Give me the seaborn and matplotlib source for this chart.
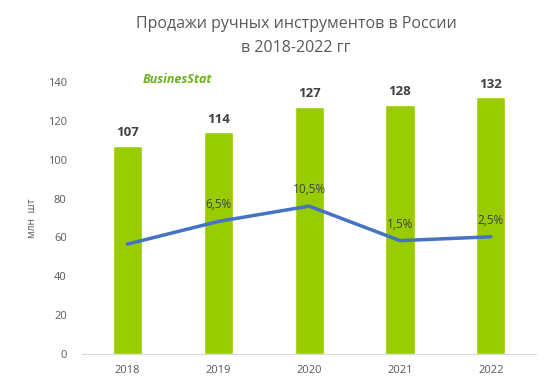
import numpy as np
import pandas as pd
import matplotlib.pyplot as plt
import seaborn as sns

years = ["2018", "2019", "2020", "2021", "2022"]
sales = [107, 114, 127, 128, 132]
growth = [0.6, 6.5, 10.5, 1.5, 2.5]
growth_labels = [None, "6,5%", "10,5%", "1,5%", "2,5%"]

df = pd.DataFrame({"year": years, "sales": sales, "growth": growth})

sns.set_style("white")
plt.rcParams["font.family"] = ["Open Sans", "DejaVu Sans"]

fig = plt.figure(figsize=(5.58, 3.9), dpi=100)
ax = fig.add_axes([0.147, 0.092, 0.814, 0.698])

sns.barplot(data=df, x="year", y="sales", color="#99CC00", width=0.32,
            saturation=1, ax=ax)
ax.set_ylim(0, 140)
ax.set_yticks(range(0, 141, 20))
ax.set_xlim(-0.5, 4.5)
ax.tick_params(axis="y", length=0, labelsize=8, colors="#595959", pad=11)
ax.tick_params(axis="x", length=0, labelsize=8, colors="#595959", pad=8)
for s in ["top", "right", "left"]:
    ax.spines[s].set_visible(False)
ax.spines["bottom"].set_color("#D9D9D9")
ax.set_xlabel("")
ax.set_ylabel("млн  шт", fontsize=7.5, color="#595959", labelpad=7)

for i, v in enumerate(sales):
    ax.text(i, v + 3.5, str(v), ha="center", va="bottom", fontsize=9.5,
            fontweight="bold", color="#404040")

ax2 = ax.twinx()
sns.lineplot(data=df, x="year", y="growth", color="#4472C4", linewidth=2.5,
             ax=ax2)
ax2.set_ylim(-28.1, 42.9)
ax2.set_xlim(-0.5, 4.5)
ax2.axis("off")
for i, (g, lab) in enumerate(zip(growth, growth_labels)):
    if lab:
        ax2.text(i, g + 2.6, lab, ha="center", va="bottom", fontsize=8.5,
                 color="#404040")

fig.text(0.531, 0.938, "Продажи ручных инструментов в России",
         ha="center", va="center", fontsize=11.5, color="#595959")
fig.text(0.531, 0.876, "в 2018-2022 гг", ha="center", va="center",
         fontsize=11.5, color="#595959")
fig.text(0.318, 0.795, "BusinesStat", ha="center", va="center", fontsize=9,
         fontweight="bold", style="italic", color="#6FB01E")

fig.savefig("out.png", dpi=100)
